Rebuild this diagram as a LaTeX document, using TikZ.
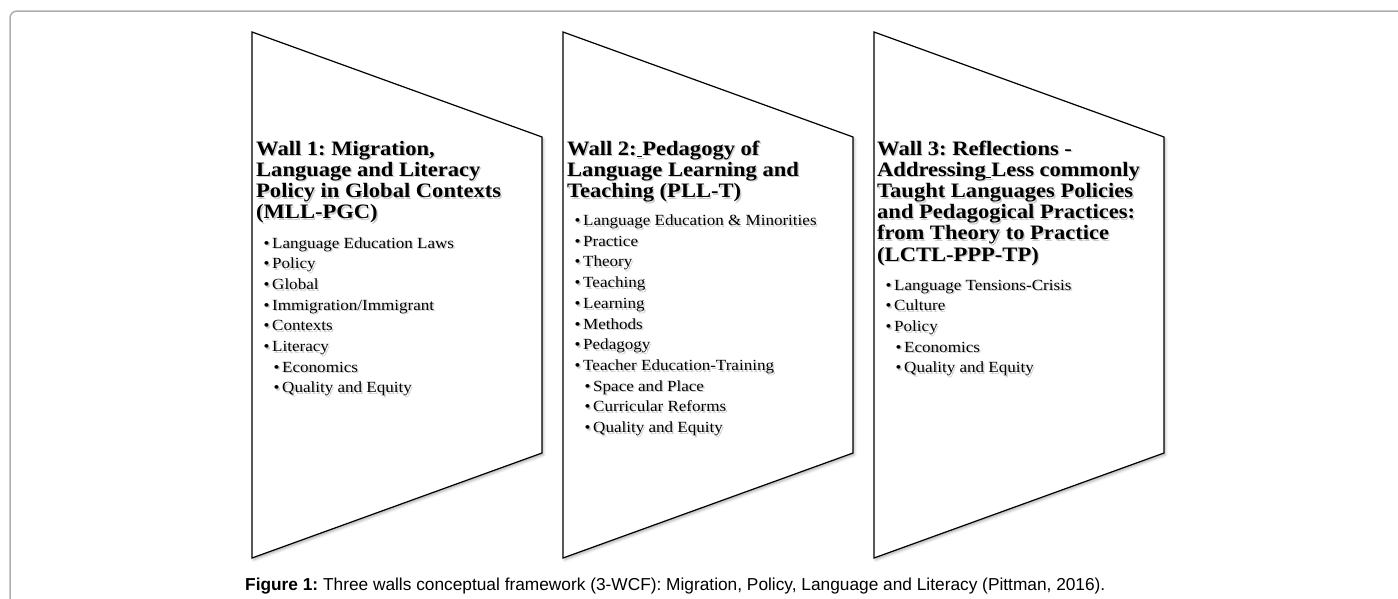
\documentclass[tikz,border=0pt]{standalone}
\usepackage{fontspec}
\usetikzlibrary{shadows.blur}
\newfontfamily\wallfont[FakeStretch=1.1]{Liberation Serif}
\setsansfont{Liberation Sans}
\frenchspacing
\definecolor{framegray}{gray}{0.68}
\newcommand\tsh[1]{\leavevmode\rlap{\kern1.4pt\raisebox{-1.7pt}{\textcolor{black!20}{#1}}}#1}
\newcommand\bl[1]{\tsh{\makebox[8.5pt][l]{\textbullet}#1}}
\newcommand\sbl[1]{\hspace*{10pt}\tsh{\makebox[8.5pt][l]{\textbullet}#1}}
\tikzset{
  wall/.style={draw=black, line width=1.2pt, fill=white,
    blur shadow={shadow xshift=1.5pt, shadow yshift=-2pt, shadow opacity=30, shadow blur radius=2.5pt}},
  walltitle/.style={anchor=base west, inner sep=0pt, font=\wallfont\bfseries\fontsize{20.5}{21.2}\selectfont},
  wallitems/.style={anchor=base west, inner sep=0pt, font=\wallfont\fontsize{15.5}{20.7}\selectfont},
  captext/.style={anchor=base west, inner sep=0pt, font=\sffamily\fontsize{17.3}{20}\selectfont},
  frameline/.style={draw=framegray, line width=1.5pt, rounded corners=7pt}
}
\begin{document}
\begin{tikzpicture}[x=1pt,y=-1pt]
\useasboundingbox (0,0) rectangle (1398,598);
\draw[frameline] (10,600) -- (10,11) -- (1400,11);

% walls
\draw[wall] (252,32) -- (542,137) -- (542,453) -- (252,558) -- cycle;
\draw[wall] (563,32) -- (853,137) -- (853,453) -- (563,558) -- cycle;
\draw[wall] (874,32) -- (1164,137) -- (1164,453) -- (874,558) -- cycle;

% wall 1
\node[walltitle] (t1) at (256,155) {\begin{tabular}[t]{@{}l@{}}
\tsh{Wall 1: Migration,}\\
\tsh{Language and Literacy}\\
\tsh{Policy in Global Contexts}\\
\tsh{(MLL-PGC)}
\end{tabular}};
\node[wallitems] (i1) at (263.5,248) {\begin{tabular}[t]{@{}l@{}}
\bl{Language Education Laws}\\
\bl{Policy}\\
\bl{Global}\\
\bl{Immigration/Immigrant}\\
\bl{Contexts}\\
\bl{Literacy}\\
\sbl{Economics}\\
\sbl{Quality and Equity}
\end{tabular}};

% wall 2
\node[walltitle] (t2) at (567,155) {\begin{tabular}[t]{@{}l@{}}
\tsh{Wall 2:\underline{\ }Pedagogy of}\\
\tsh{Language Learning and}\\
\tsh{Teaching (PLL-T)}
\end{tabular}};
\node[wallitems] (i2) at (574.5,225.5) {\begin{tabular}[t]{@{}l@{}}
\bl{Language Education \& Minorities}\\
\bl{Practice}\\
\bl{Theory}\\
\bl{Teaching}\\
\bl{Learning}\\
\bl{Methods}\\
\bl{Pedagogy}\\
\bl{Teacher Education-Training}\\
\sbl{Space and Place}\\
\sbl{Curricular Reforms}\\
\sbl{Quality and Equity}
\end{tabular}};

% wall 3
\node[walltitle] (t3) at (877,155) {\begin{tabular}[t]{@{}l@{}}
\tsh{Wall 3: Reflections -}\\
\tsh{Addressing\underline{\ }Less commonly}\\
\tsh{Taught Languages Policies}\\
\tsh{and Pedagogical Practices:}\\
\tsh{from Theory to Practice}\\
\tsh{(LCTL-PPP-TP)}
\end{tabular}};
\node[wallitems] (i3) at (885.5,290) {\begin{tabular}[t]{@{}l@{}}
\bl{Language Tensions-Crisis}\\
\bl{Culture}\\
\bl{Policy}\\
\sbl{Economics}\\
\sbl{Quality and Equity}
\end{tabular}};

% caption
\node[captext] (cap) at (245,590) {\textbf{Figure 1:} Three walls conceptual framework (3-WCF): Migration, Policy, Language and Literacy (Pittman, 2016).};
\end{tikzpicture}
\end{document}
